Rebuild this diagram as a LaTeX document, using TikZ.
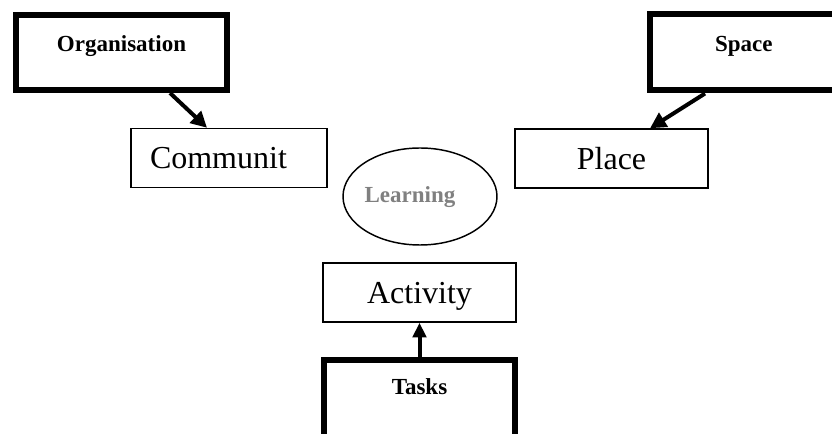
\documentclass[tikz,border=0pt]{standalone}
\usepackage{fontspec}
\setmainfont{Liberation Serif}
\usetikzlibrary{shapes.geometric,arrows.meta}
\begin{document}
\begin{tikzpicture}[x=0.75pt,y=-0.75pt,
  thickbox/.style={draw, line width=4.5pt, rectangle, inner sep=0pt,
    font=\fontsize{17.25pt}{20pt}\selectfont\bfseries, text height=12pt, text depth=14pt},
  thinbox/.style={draw, line width=1.1pt, rectangle, inner sep=0pt,
    minimum width=#1, minimum height=44.25pt,
    font=\fontsize{24pt}{28pt}\selectfont, text height=16pt, text depth=0pt},
  conn/.style={line width=3pt, -{Triangle[length=12pt,width=12pt]}}]
\useasboundingbox (0,0) rectangle (832,434);
\clip (0,0) rectangle (832,434);

\node[thickbox, minimum width=158.25pt, minimum height=56.25pt] (org) at (121.5,52.5) {Organisation};
\node[thickbox, minimum height=57pt, inner xsep=48.75pt, text width=67.5pt, align=left] (space) at (760,52.5) {Space};
\node[thickbox, minimum width=143.25pt, minimum height=63.75pt, text depth=23.25pt] (tasks) at (419.5,402.5) {Tasks};

\node[thinbox=147pt, inner xsep=14.25pt, text width=118.5pt, align=left] (comm) at (229,158) {Communit};
\node[thinbox=144.75pt] (place) at (611.5,158.5) {Place};
\node[thinbox=144.75pt] (act) at (419.5,292.5) {Activity};

\node[draw, ellipse, line width=1.1pt, inner sep=0pt, minimum width=115.5pt, minimum height=72.75pt] (learn) at (420,196.5) {};
\node[anchor=base, text=gray, font=\fontsize{17.25pt}{20pt}\selectfont\bfseries] (learntext) at (410,203) {Learning};

\draw[conn] ([xshift=36.4pt]org.south) -- ([xshift=-16.5pt]comm.north);
\draw[conn] ([xshift=-41.25pt]space.south) -- ([xshift=28.9pt]place.north);
\draw[conn, -{Triangle[length=11pt,width=10pt]}] (tasks.north) -- (act.south);
\end{tikzpicture}
\end{document}
